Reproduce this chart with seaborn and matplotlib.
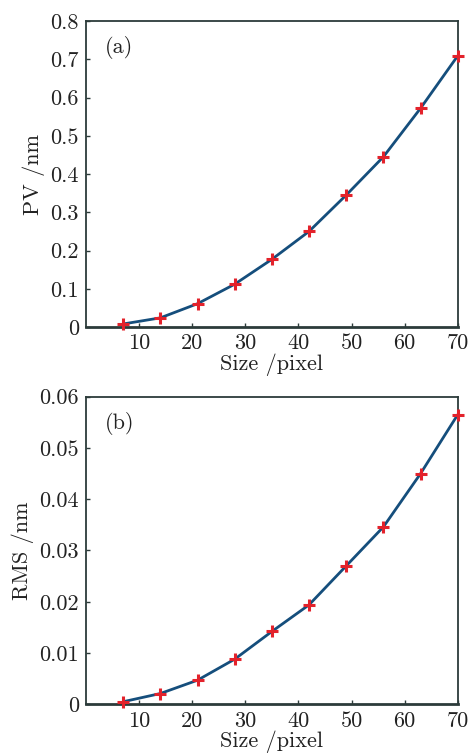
import matplotlib
matplotlib.use("Agg")
import matplotlib.pyplot as plt
import seaborn as sns

# sample sizes (pixel) and measured errors
size_px = [7, 14, 21, 28, 35, 42, 49, 56, 63, 70]
pv_nm = [0.008, 0.024, 0.061, 0.112, 0.177, 0.250, 0.345, 0.445, 0.572, 0.709]
rms_nm = [0.0005, 0.0021, 0.0047, 0.0088, 0.0142, 0.0194, 0.0270, 0.0346, 0.0450, 0.0565]

x_ticks = [10, 20, 30, 40, 50, 60, 70]
pv_ticks = [0, 0.1, 0.2, 0.3, 0.4, 0.5, 0.6, 0.7, 0.8]
pv_labels = ["0", "0.1", "0.2", "0.3", "0.4", "0.5", "0.6", "0.7", "0.8"]
rms_ticks = [0, 0.01, 0.02, 0.03, 0.04, 0.05, 0.06]
rms_labels = ["0", "0.01", "0.02", "0.03", "0.04", "0.05", "0.06"]

sns.set_style("ticks")
plt.rcParams["font.family"] = ["cmr10", "DejaVu Serif"]
plt.rcParams["axes.formatter.use_mathtext"] = True

line_col = "#154e7c"
mark_col = "#e3222b"
spine_col = "#2c3b3a"
text_col = "#222222"
fs = 16

fig = plt.figure(figsize=(4.69, 7.53), dpi=100)
ax1 = fig.add_axes([0.1834, 0.5657, 0.7926, 0.4064])
ax2 = fig.add_axes([0.1834, 0.0647, 0.7926, 0.4085])

panels = [
    (ax1, pv_nm, pv_ticks, pv_labels, (0, 0.8), "PV /nm", "(a)"),
    (ax2, rms_nm, rms_ticks, rms_labels, (0, 0.06), "RMS /nm", "(b)"),
]

for ax, vals, yt, yl, ylim, ylab, tag in panels:
    sns.lineplot(x=size_px, y=vals, ax=ax, color=line_col, linewidth=2.0,
                 marker="+", markersize=8, markeredgewidth=2.2,
                 markeredgecolor=mark_col, markerfacecolor=mark_col,
                 clip_on=False, zorder=3)
    ax.set_xlim(0, 70)
    ax.set_ylim(*ylim)
    ax.set_xticks(x_ticks)
    ax.set_xticklabels([str(t) for t in x_ticks])
    ax.set_yticks(yt)
    ax.set_yticklabels(yl)
    ax.tick_params(direction="in", length=3, width=1, colors=spine_col,
                   labelcolor=text_col, labelsize=fs, pad=5)
    ax.set_xlabel("Size /pixel", fontsize=fs, color=text_col, labelpad=0)
    ax.set_ylabel(ylab, fontsize=fs, color=text_col, labelpad=4)
    for side, sp in ax.spines.items():
        sp.set_visible(True)
        sp.set_color(spine_col)
        sp.set_linewidth(1.3)
    ax.spines["bottom"].set_linewidth(2.0)
    ax.text(0.05, 0.95, tag, transform=ax.transAxes, fontsize=fs,
            va="top", ha="left", color=text_col)

fig.savefig("out.png", dpi=100)
